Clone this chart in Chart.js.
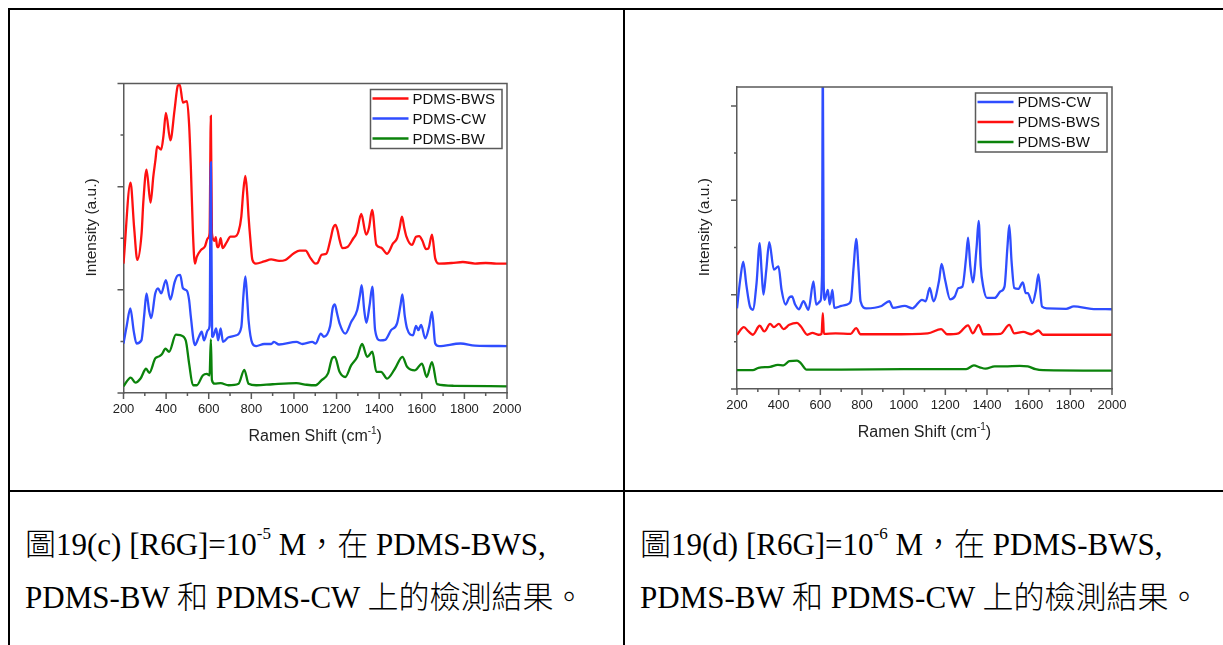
<!DOCTYPE html>
<html>
<head>
<meta charset="utf-8">
<script src="https://cdn.jsdelivr.net/npm/chart.js@4.4.1/dist/chart.umd.min.js"></script>
<style>
  html, body { margin:0; padding:0; background:#fff; width:1223px; height:645px; overflow:hidden; }
  .ln { position:absolute; background:#000; }
  .cv { position:absolute; }
  .cap { position:absolute; font-family:"Liberation Serif","Times New Roman","Noto Sans CJK TC",serif; font-size:31px; line-height:31px; color:#000; white-space:nowrap; }
  .cap .cjk { font-family:"Noto Sans CJK TC","Noto Sans CJK SC",sans-serif; font-weight:300; }
  .cap sup { font-size:17px; line-height:0; vertical-align:top; position:relative; top:8px; }
</style>
</head>
<body>
<div class="ln" style="left:8px;top:8px;width:1215px;height:2px"></div>
<div class="ln" style="left:8px;top:8px;width:2px;height:637px"></div>
<div class="ln" style="left:623px;top:8px;width:2px;height:637px"></div>
<div class="ln" style="left:8px;top:490px;width:1215px;height:2px"></div>

<canvas id="chartC" class="cv" width="612" height="480" style="left:10px;top:10px"></canvas>
<canvas id="chartD" class="cv" width="598" height="480" style="left:625px;top:10px"></canvas>

<div class="cap" style="left:25px;top:526px"><span class="cjk">圖</span>19(c) [R6G]=10<sup>-5</sup> M<span class="cjk">，在</span> PDMS-BWS,</div>
<div class="cap" style="left:25px;top:579px">PDMS-BW <span class="cjk">和</span> PDMS-CW <span class="cjk">上的檢測結果。</span></div>
<div class="cap" style="left:640px;top:526px"><span class="cjk">圖</span>19(d) [R6G]=10<sup>-6</sup> M<span class="cjk">，在</span> PDMS-BWS,</div>
<div class="cap" style="left:640px;top:579px">PDMS-BW <span class="cjk">和</span> PDMS-CW <span class="cjk">上的檢測結果。</span></div>

<script>
// ---------- Shared axis text ----------
const xTickValues = [200, 400, 600, 800, 1000, 1200, 1400, 1600, 1800, 2000];
const xAxisTitle = 'Ramen Shift (cm';
const xAxisTitleSup = '-1';
const yAxisTitle = 'Intensity (a.u.)';

// ---------- Data: Figure 19(c) [R6G]=1e-5 M ----------
const labelsC = ['PDMS-BWS', 'PDMS-CW', 'PDMS-BW'];

const bwsC_x = [200,233,250,265,285,293,308,327,340,350,358,377,388,399,420,440,455,464,479,498,508,516,526,535,544,563,582,596,604,610,615,628,633,640,646,656,665,684,702,721,740,753,762,772,780,787,796,805,821,860,893,930,960,1000,1027,1055,1074,1102,1111,1130,1152,1171,1184,1195,1205,1214,1227,1251,1279,1294,1316,1339,1352,1367,1387,1409,1437,1465,1484,1496,1507,1518,1528,1554,1573,1588,1603,1620,1631,1648,1663,1681,1740,1793,1850,1900,1950,2000];
const bwsC_y = [2.51,4.08,3.20,2.58,3.10,3.70,4.33,3.69,4.20,4.52,4.78,4.72,5.00,5.43,4.90,5.50,5.96,5.98,5.63,5.66,5.20,4.39,3.10,2.51,2.64,2.77,2.84,3.00,3.10,5.37,3.10,2.95,3.02,2.83,2.83,3.00,2.81,2.92,3.03,3.03,3.13,3.42,3.90,4.21,3.90,3.42,2.95,2.58,2.51,2.55,2.59,2.56,2.58,2.71,2.76,2.76,2.64,2.51,2.52,2.68,2.70,2.97,3.20,3.26,3.15,2.97,2.81,2.83,3.00,3.10,3.47,3.07,3.20,3.55,2.87,2.82,2.70,2.90,3.00,3.20,3.42,3.20,3.03,2.87,3.03,3.04,2.95,2.79,2.80,3.07,2.61,2.51,2.52,2.54,2.51,2.52,2.51,2.51];

const cwC_x = [200,215,232,248,261,284,297,308,320,330,349,362,377,399,420,440,455,466,479,498,508,516,535,554,567,578,596,604,610,616,619,635,644,656,667,693,730,753,763,772,781,787,805,823,860,893,906,930,1012,1040,1086,1102,1126,1140,1170,1182,1192,1202,1214,1241,1269,1297,1310,1318,1330,1340,1355,1368,1381,1405,1428,1456,1484,1500,1509,1520,1531,1559,1573,1584,1597,1616,1635,1648,1663,1681,1782,1850,2000];
const cwC_y = [0.96,1.30,1.64,1.20,0.96,1.02,1.50,1.93,1.60,1.45,1.93,2.03,1.93,2.19,1.81,2.15,2.28,2.29,2.03,1.98,1.80,1.48,0.93,1.09,1.19,1.02,1.22,1.30,4.47,1.10,1.09,1.25,1.02,1.25,0.99,1.08,1.12,1.28,1.90,2.26,1.80,1.41,0.96,0.91,0.95,0.95,0.99,0.94,0.99,0.95,0.99,0.96,1.15,1.09,1.30,1.65,1.72,1.55,1.35,1.15,1.38,1.61,1.90,2.09,1.60,1.36,1.70,2.06,1.22,1.02,1.03,1.22,1.35,1.70,1.91,1.50,1.25,1.12,1.30,1.22,1.32,1.06,1.30,1.57,0.96,0.91,0.96,0.92,0.91];

const bwC_x = [200,234,256,280,306,321,349,367,380,397,414,446,466,492,508,526,544,572,591,604,610,615,628,656,693,740,767,787,823,900,1012,1060,1102,1130,1160,1180,1192,1214,1241,1269,1297,1320,1344,1368,1387,1409,1437,1474,1509,1531,1568,1601,1623,1648,1672,1750,2000];
const bwC_y = [0.13,0.30,0.20,0.28,0.47,0.39,0.67,0.71,0.75,0.86,0.80,1.13,1.12,1.02,0.57,0.15,0.15,0.34,0.37,0.34,1.04,0.25,0.18,0.19,0.15,0.18,0.45,0.18,0.15,0.17,0.19,0.16,0.15,0.25,0.38,0.68,0.70,0.41,0.31,0.54,0.70,0.95,0.70,0.80,0.41,0.41,0.28,0.47,0.70,0.51,0.44,0.57,0.31,0.60,0.17,0.14,0.13];

// ---------- Data: Figure 19(d) [R6G]=1e-6 M ----------
const labelsD = ['PDMS-CW', 'PDMS-BWS', 'PDMS-BW'];

const cwD_x = [200,215,230,245,262,276,294,309,318,327,340,355,377,399,414,433,451,464,479,497,519,543,567,580,599,608,612,616,621,636,645,658,667,701,728,746,760,772,784,793,820,894,931,949,1005,1042,1088,1106,1125,1143,1170,1182,1199,1223,1245,1263,1282,1300,1309,1320,1332,1350,1360,1370,1382,1400,1437,1465,1484,1498,1507,1518,1531,1550,1572,1586,1596,1618,1635,1647,1664,1688,1780,1817,1900,2000];
const cwD_y = [1.71,2.30,2.70,2.20,1.75,1.68,2.25,3.09,2.50,2.00,2.50,3.11,2.53,2.60,2.10,1.79,1.94,1.96,1.79,1.69,1.86,1.68,2.28,1.79,1.86,2.40,7.00,2.30,1.89,2.10,1.79,2.10,1.72,1.76,1.79,1.86,2.60,3.18,2.50,1.86,1.71,1.76,1.86,1.72,1.76,1.71,1.89,1.86,2.14,1.86,2.30,2.65,2.31,1.90,1.96,2.14,2.17,2.80,3.21,2.60,2.26,3.00,3.56,2.60,2.17,1.93,1.93,2.07,2.17,3.00,3.47,2.70,2.14,2.12,2.26,2.03,2.03,1.82,2.10,2.43,1.75,1.71,1.70,1.75,1.70,1.69];

const bwsD_x = [200,233,255,276,309,331,359,377,401,423,451,488,506,538,562,590,606,612,617,673,746,772,793,931,1116,1180,1208,1263,1309,1332,1360,1382,1465,1507,1531,1574,1614,1647,1669,2000];
const bwsD_y = [1.15,1.31,1.22,1.15,1.34,1.22,1.38,1.31,1.38,1.27,1.36,1.40,1.33,1.15,1.19,1.15,1.17,1.61,1.17,1.18,1.17,1.29,1.16,1.16,1.18,1.27,1.16,1.18,1.35,1.18,1.36,1.16,1.17,1.36,1.18,1.21,1.16,1.24,1.15,1.15];

const bwD_x = [200,276,303,359,396,423,451,488,506,534,700,1000,1300,1337,1365,1393,1437,1484,1557,1596,1633,1669,2000];
const bwD_y = [0.40,0.40,0.45,0.47,0.51,0.50,0.59,0.60,0.55,0.41,0.41,0.42,0.42,0.50,0.46,0.43,0.48,0.48,0.49,0.48,0.42,0.40,0.39];

// ---------- Styling ----------
const RED = '#ff1010', BLUE = '#2f4dff', GREEN = '#0b830b';
const AXIS = '#5a5a5a';
Chart.defaults.font.family = "'Liberation Sans', Arial, sans-serif";
Chart.defaults.color = '#222';

function pts(xs, ys) { return xs.map((x, i) => ({x: x, y: ys[i]})); }

function ds(label, xs, ys, color, order) {
  return { label, data: pts(xs, ys), borderColor: color, backgroundColor: color,
    borderWidth: 2.3, pointRadius: 0, cubicInterpolationMode: 'monotone', order };
}

const decor = {
  id: 'decor',
  afterDraw(chart) {
    const ctx = chart.ctx, a = chart.chartArea;
    const xs = chart.scales.x, ys = chart.scales.y;
    ctx.save();
    ctx.strokeStyle = AXIS; ctx.lineWidth = 1.5;
    ctx.beginPath();
    ctx.moveTo(a.left, a.top); ctx.lineTo(a.right, a.top); ctx.lineTo(a.right, a.bottom);
    xs.ticks.forEach(t => {
      const px = xs.getPixelForValue(t.value);
      const major = xTickValues.includes(t.value);
      ctx.moveTo(px, a.bottom); ctx.lineTo(px, a.bottom + (major ? 6 : 3));
    });
    ys.ticks.forEach(t => {
      if (Math.abs(t.value - Math.round(t.value)) > 1e-6) return;
      const py = ys.getPixelForValue(t.value);
      const major = Math.round(t.value) % 2 === 0;
      ctx.moveTo(a.left, py); ctx.lineTo(a.left - (major ? 6 : 3), py);
    });
    ctx.stroke();

    // X axis title with superscript
    const f1 = "16px 'Liberation Sans', Arial, sans-serif";
    const f2 = "10px 'Liberation Sans', Arial, sans-serif";
    ctx.fillStyle = '#222'; ctx.textBaseline = 'alphabetic'; ctx.textAlign = 'left';
    ctx.font = f1; const w1 = ctx.measureText(xAxisTitle).width; const w3 = ctx.measureText(')').width;
    ctx.font = f2; const w2 = ctx.measureText(xAxisTitleSup).width;
    const total = w1 + w2 + w3;
    let x0 = (a.left + a.right) / 2 - total / 2;
    const base = a.bottom + 48;
    ctx.font = f1; ctx.fillText(xAxisTitle, x0, base);
    ctx.font = f2; ctx.fillText(xAxisTitleSup, x0 + w1, base - 7);
    ctx.font = f1; ctx.fillText(')', x0 + w1 + w2, base);

    // Legend box inside plot area
    const lf = "15px 'Liberation Sans', Arial, sans-serif";
    ctx.font = lf;
    const dsets = chart.data.datasets;
    let maxW = 0;
    dsets.forEach(d => { maxW = Math.max(maxW, ctx.measureText(d.label).width); });
    const bw = 42 + maxW + 7, bh = 59;
    const bx = a.right - 5 - bw, by = a.top + 6;
    ctx.fillStyle = '#fff'; ctx.fillRect(bx, by, bw, bh);
    ctx.strokeStyle = AXIS; ctx.lineWidth = 1.5; ctx.strokeRect(bx, by, bw, bh);
    dsets.forEach((d, i) => {
      const cy = a.top + 15 + 20 * i;
      ctx.strokeStyle = d.borderColor; ctx.lineWidth = 2.5;
      ctx.beginPath(); ctx.moveTo(bx + 2, cy); ctx.lineTo(bx + 38, cy); ctx.stroke();
      ctx.fillStyle = '#111'; ctx.textBaseline = 'middle';
      ctx.fillText(d.label, bx + 42, cy + 1);
    });
    ctx.restore();
  }
};

function makeChart(id, datasets, yMax, pad) {
  return new Chart(document.getElementById(id), {
    type: 'line',
    data: { datasets },
    options: {
      responsive: false, animation: false,
      layout: { padding: pad },
      plugins: { legend: { display: false }, tooltip: { enabled: false } },
      scales: {
        x: {
          type: 'linear', min: 200, max: 2000,
          grid: { display: false, drawTicks: false },
          border: { display: true, color: AXIS, width: 1.5 },
          ticks: { stepSize: 100, autoSkip: false, maxRotation: 0, padding: 9,
            font: { size: 13 }, color: '#222',
            callback: v => xTickValues.includes(v) ? String(v) : '' },
          afterFit: s => { s.height = 50; }
        },
        y: {
          type: 'linear', min: 0, max: yMax,
          grid: { display: false, drawTicks: false },
          border: { display: true, color: AXIS, width: 1.5 },
          ticks: { display: false, stepSize: 1, includeBounds: false },
          title: { display: true, text: '     ' + yAxisTitle, padding: 0,
            font: { size: 15.5, lineHeight: 1 }, color: '#222' },
          afterFit: s => { s.width = 40; }
        }
      }
    },
    plugins: [decor]
  });
}

makeChart('chartC', [
  ds(labelsC[0], bwsC_x, bwsC_y, RED, 3),
  ds(labelsC[1], cwC_x, cwC_y, BLUE, 1),
  ds(labelsC[2], bwC_x, bwC_y, GREEN, 2)
], 6, { left: 73.5, right: 115, top: 73.5, bottom: 47 });

makeChart('chartD', [
  ds(labelsD[0], cwD_x, cwD_y, BLUE, 1),
  ds(labelsD[1], bwsD_x, bwsD_y, RED, 3),
  ds(labelsD[2], bwD_x, bwD_y, GREEN, 2)
], 6.4, { left: 72, right: 111, top: 77, bottom: 51 });
</script>
</body>
</html>
